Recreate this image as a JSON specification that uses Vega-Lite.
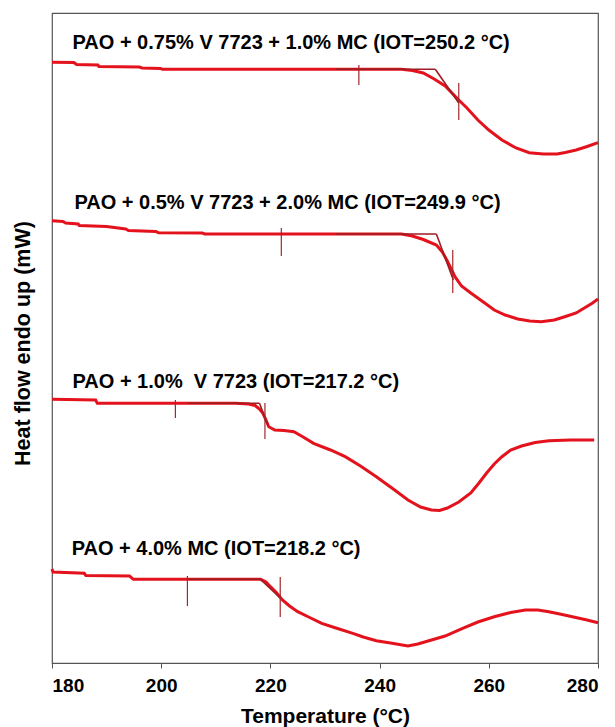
{
  "$schema": "https://vega.github.io/schema/vega-lite/v6.json",
  "width": 546,
  "height": 650,
  "autosize": "none",
  "padding": {"left": 52, "top": 13, "right": 17, "bottom": 64},
  "config": {
    "view": {"stroke": "#555555", "strokeWidth": 1.2},
    "font": "Liberation Sans"
  },
  "datasets": {
    "curves": [
      {"s": "c1", "T": 180, "v": 60.07}, {"s": "c1", "T": 184, "v": 60.05}, {"s": "c1", "T": 184.5, "v": 59.85}, {"s": "c1", "T": 188.4, "v": 59.8}, {"s": "c1", "T": 188.6, "v": 59.65}, {"s": "c1", "T": 196, "v": 59.6}, {"s": "c1", "T": 196.5, "v": 59.5}, {"s": "c1", "T": 199.9, "v": 59.45}, {"s": "c1", "T": 200.2, "v": 59.37}, {"s": "c1", "T": 244, "v": 59.37}, {"s": "c1", "T": 246, "v": 59.25}, {"s": "c1", "T": 248, "v": 59.0}, {"s": "c1", "T": 250, "v": 58.4}, {"s": "c1", "T": 252, "v": 57.7}, {"s": "c1", "T": 254.5, "v": 56.3}, {"s": "c1", "T": 256, "v": 55.5}, {"s": "c1", "T": 258, "v": 54.3}, {"s": "c1", "T": 260, "v": 53.3}, {"s": "c1", "T": 262.4, "v": 52.3}, {"s": "c1", "T": 265, "v": 51.5}, {"s": "c1", "T": 267.4, "v": 51.03}, {"s": "c1", "T": 270, "v": 50.9}, {"s": "c1", "T": 272.5, "v": 50.9}, {"s": "c1", "T": 274, "v": 51.05}, {"s": "c1", "T": 276, "v": 51.3}, {"s": "c1", "T": 278, "v": 51.65}, {"s": "c1", "T": 280, "v": 52.03},
      {"s": "c2", "T": 180, "v": 44.23}, {"s": "c2", "T": 182, "v": 44.15}, {"s": "c2", "T": 182.5, "v": 44.0}, {"s": "c2", "T": 184.8, "v": 43.9}, {"s": "c2", "T": 185, "v": 43.75}, {"s": "c2", "T": 190, "v": 43.65}, {"s": "c2", "T": 193.5, "v": 43.4}, {"s": "c2", "T": 194, "v": 43.25}, {"s": "c2", "T": 199, "v": 43.15}, {"s": "c2", "T": 199.5, "v": 43.03}, {"s": "c2", "T": 207.5, "v": 43.0}, {"s": "c2", "T": 208, "v": 42.9}, {"s": "c2", "T": 244, "v": 42.9}, {"s": "c2", "T": 246, "v": 42.7}, {"s": "c2", "T": 248, "v": 42.35}, {"s": "c2", "T": 250.4, "v": 41.8}, {"s": "c2", "T": 251.5, "v": 41.1}, {"s": "c2", "T": 252.4, "v": 40.2}, {"s": "c2", "T": 253.8, "v": 38.63}, {"s": "c2", "T": 255, "v": 37.7}, {"s": "c2", "T": 256.7, "v": 37.0}, {"s": "c2", "T": 259, "v": 36.1}, {"s": "c2", "T": 261, "v": 35.3}, {"s": "c2", "T": 263, "v": 34.8}, {"s": "c2", "T": 265.3, "v": 34.4}, {"s": "c2", "T": 267.5, "v": 34.2}, {"s": "c2", "T": 269.6, "v": 34.13}, {"s": "c2", "T": 272, "v": 34.3}, {"s": "c2", "T": 273.9, "v": 34.63}, {"s": "c2", "T": 276, "v": 35.0}, {"s": "c2", "T": 277.5, "v": 35.5}, {"s": "c2", "T": 279, "v": 36.0}, {"s": "c2", "T": 280, "v": 36.4},
      {"s": "c3", "T": 180, "v": 26.37}, {"s": "c3", "T": 188, "v": 26.3}, {"s": "c3", "T": 188.3, "v": 25.97}, {"s": "c3", "T": 213.6, "v": 25.97}, {"s": "c3", "T": 216, "v": 25.9}, {"s": "c3", "T": 217.2, "v": 25.75}, {"s": "c3", "T": 218, "v": 25.4}, {"s": "c3", "T": 218.6, "v": 25.0}, {"s": "c3", "T": 219.2, "v": 24.3}, {"s": "c3", "T": 219.7, "v": 23.63}, {"s": "c3", "T": 220.8, "v": 23.3}, {"s": "c3", "T": 222.5, "v": 23.25}, {"s": "c3", "T": 224.3, "v": 23.13}, {"s": "c3", "T": 226, "v": 22.6}, {"s": "c3", "T": 227.9, "v": 21.97}, {"s": "c3", "T": 231, "v": 21.3}, {"s": "c3", "T": 233.7, "v": 20.63}, {"s": "c3", "T": 236.5, "v": 19.7}, {"s": "c3", "T": 239.4, "v": 18.63}, {"s": "c3", "T": 242.5, "v": 17.4}, {"s": "c3", "T": 245.2, "v": 16.3}, {"s": "c3", "T": 247.5, "v": 15.6}, {"s": "c3", "T": 249.5, "v": 15.3}, {"s": "c3", "T": 251, "v": 15.25}, {"s": "c3", "T": 252.4, "v": 15.5}, {"s": "c3", "T": 254.5, "v": 16.1}, {"s": "c3", "T": 256.7, "v": 17.0}, {"s": "c3", "T": 258.2, "v": 18.0}, {"s": "c3", "T": 259.6, "v": 19.0}, {"s": "c3", "T": 261, "v": 19.9}, {"s": "c3", "T": 262.4, "v": 20.63}, {"s": "c3", "T": 264, "v": 21.3}, {"s": "c3", "T": 266, "v": 21.7}, {"s": "c3", "T": 268.5, "v": 22.05}, {"s": "c3", "T": 271, "v": 22.23}, {"s": "c3", "T": 275, "v": 22.3}, {"s": "c3", "T": 279.3, "v": 22.3},
      {"s": "c4", "T": 180, "v": 9.4}, {"s": "c4", "T": 180.2, "v": 9.1}, {"s": "c4", "T": 185.9, "v": 8.97}, {"s": "c4", "T": 186.2, "v": 8.75}, {"s": "c4", "T": 194.2, "v": 8.7}, {"s": "c4", "T": 194.9, "v": 8.37}, {"s": "c4", "T": 218.2, "v": 8.37}, {"s": "c4", "T": 219.2, "v": 8.1}, {"s": "c4", "T": 220, "v": 7.63}, {"s": "c4", "T": 221, "v": 7.1}, {"s": "c4", "T": 222.2, "v": 6.3}, {"s": "c4", "T": 223.5, "v": 5.7}, {"s": "c4", "T": 225, "v": 5.13}, {"s": "c4", "T": 227, "v": 4.6}, {"s": "c4", "T": 229.4, "v": 3.97}, {"s": "c4", "T": 232, "v": 3.5}, {"s": "c4", "T": 235.1, "v": 2.97}, {"s": "c4", "T": 237, "v": 2.6}, {"s": "c4", "T": 239.4, "v": 2.23}, {"s": "c4", "T": 242, "v": 2.0}, {"s": "c4", "T": 245.2, "v": 1.7}, {"s": "c4", "T": 247, "v": 1.9}, {"s": "c4", "T": 249.5, "v": 2.3}, {"s": "c4", "T": 252, "v": 2.7}, {"s": "c4", "T": 255.2, "v": 3.47}, {"s": "c4", "T": 258, "v": 4.1}, {"s": "c4", "T": 261, "v": 4.63}, {"s": "c4", "T": 264, "v": 5.05}, {"s": "c4", "T": 266.7, "v": 5.3}, {"s": "c4", "T": 269, "v": 5.3}, {"s": "c4", "T": 271, "v": 5.13}, {"s": "c4", "T": 273, "v": 4.9}, {"s": "c4", "T": 275.3, "v": 4.63}, {"s": "c4", "T": 278, "v": 4.3}, {"s": "c4", "T": 280, "v": 4.03}
    ],
    "tangents": [
      {"s": "t1a", "T": 232, "v": 59.37}, {"s": "t1a", "T": 250.2, "v": 59.37},
      {"s": "t1b", "T": 250.2, "v": 59.37}, {"s": "t1b", "T": 254.5, "v": 56.0},
      {"s": "t2a", "T": 232, "v": 42.9}, {"s": "t2a", "T": 250.4, "v": 42.9},
      {"s": "t2b", "T": 250.4, "v": 42.9}, {"s": "t2b", "T": 253.5, "v": 38.3},
      {"s": "t3a", "T": 205, "v": 25.97}, {"s": "t3a", "T": 218, "v": 25.97},
      {"s": "t3b", "T": 218, "v": 25.97}, {"s": "t3b", "T": 219.6, "v": 23.7},
      {"s": "t4a", "T": 205, "v": 8.37}, {"s": "t4a", "T": 218.2, "v": 8.37},
      {"s": "t4b", "T": 218.2, "v": 8.37}, {"s": "t4b", "T": 221.8, "v": 6.5}
    ],
    "markers": [
      {"T": 236.2, "v": 59.8, "v2": 57.8}, {"T": 254.5, "v": 58.0, "v2": 54.3},
      {"T": 222, "v": 43.5, "v2": 40.7}, {"T": 253.4, "v": 41.3, "v2": 37.0},
      {"T": 202.6, "v": 26.3, "v2": 24.5}, {"T": 219, "v": 26.0, "v2": 22.4},
      {"T": 204.8, "v": 8.7, "v2": 5.7}, {"T": 221.8, "v": 8.6, "v2": 4.6}
    ],
    "labels": [
      {"T": 183.75, "v": 61.97, "label": "PAO + 0.75% V 7723 + 1.0% MC (IOT=250.2 °C)"},
      {"T": 184.1, "v": 45.97, "label": "PAO + 0.5% V 7723 + 2.0% MC (IOT=249.9 °C)"},
      {"T": 183.75, "v": 28.13, "label": "PAO + 1.0%\u00a0 V 7723 (IOT=217.2 °C)"},
      {"T": 183.6, "v": 11.4, "label": "PAO + 4.0% MC (IOT=218.2 °C)"}
    ]
  },
  "encoding": {
    "x": {
      "field": "T", "type": "quantitative",
      "scale": {"domain": [180, 280], "nice": false, "zero": false},
      "axis": {
        "values": [180, 200, 220, 240, 260, 280],
        "grid": false, "tickSize": 5, "tickColor": "#555555", "domainColor": "#555555",
        "labelFontSize": 19, "labelFontWeight": "bold", "labelColor": "#000000", "labelPadding": 8,
        "title": "Temperature (°C)", "titleFontSize": 21, "titleFontWeight": "bold", "titleColor": "#000000", "titlePadding": 10
      }
    },
    "y": {
      "field": "v", "type": "quantitative",
      "scale": {"domain": [0, 65], "nice": false, "zero": false},
      "axis": {
        "labels": false, "ticks": false, "grid": false, "domain": false,
        "title": "Heat flow endo up (mW)", "titleFontSize": 21.5, "titleFontWeight": "bold", "titleColor": "#000000", "titlePadding": 18, "titleY": 330
      }
    }
  },
  "layer": [
    {
      "data": {"name": "curves"},
      "mark": {"type": "line", "color": "#e3121c", "strokeWidth": 3, "interpolate": "linear"},
      "encoding": {"detail": {"field": "s"}}
    },
    {
      "data": {"name": "tangents"},
      "mark": {"type": "line", "color": "#9e1c22", "strokeWidth": 1.6},
      "encoding": {"detail": {"field": "s"}}
    },
    {
      "data": {"name": "markers"},
      "mark": {"type": "rule", "color": "#a3272b", "strokeWidth": 1.2},
      "encoding": {"y2": {"field": "v2"}}
    },
    {
      "data": {"name": "labels"},
      "mark": {"type": "text", "align": "left", "baseline": "middle", "fontSize": 20, "fontWeight": "bold", "color": "#000000", "font": "Liberation Sans"},
      "encoding": {"text": {"field": "label"}}
    }
  ]
}
